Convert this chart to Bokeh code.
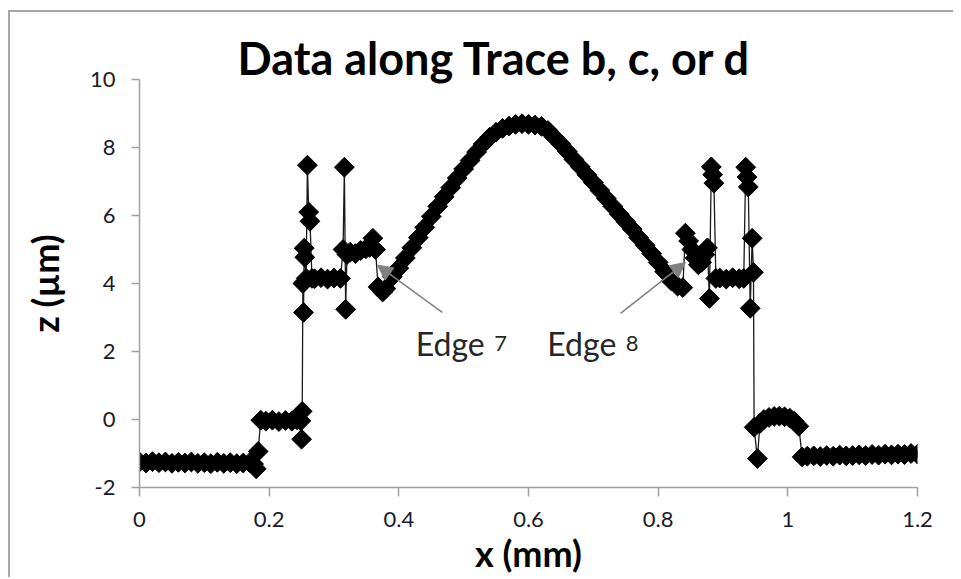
import numpy as np
from bokeh.plotting import figure
from bokeh.models import (Range1d, Label, Arrow, NormalHead,
                          FixedTicker, NumeralTickFormatter)
from bokeh.embed import file_html
from bokeh.resources import INLINE

# ---------------- texts ----------------
TITLE = "Data along Trace b, c, or d"
X_LABEL = "x (mm)"
Y_LABEL = "z (µm)"
X_TICKS = [0, 0.2, 0.4, 0.6, 0.8, 1.0, 1.2]
Y_TICKS = [-2, 0, 2, 4, 6, 8, 10]

# ---------------- data (x in mm, z in µm) ----------------
base_left_x = [0.00, 0.01, 0.02, 0.03, 0.04, 0.05, 0.06, 0.07, 0.08, 0.09, 0.10, 0.11,
               0.12, 0.13, 0.14, 0.15, 0.16, 0.17, 0.176, 0.180, 0.183]
base_left_z = [-1.25, -1.28, -1.24, -1.27, -1.25, -1.29, -1.26, -1.28, -1.25, -1.29, -1.27, -1.30,
               -1.26, -1.29, -1.27, -1.30, -1.28, -1.27, -1.31, -1.45, -0.94]

step_low_x = [0.187, 0.195, 0.205, 0.215, 0.225, 0.235, 0.243, 0.249, 0.250, 0.251]
step_low_z = [-0.02, -0.05, -0.02, -0.06, -0.03, -0.05, -0.01, -0.04, -0.58, 0.24]

spike1_x = [0.252, 0.253, 0.254, 0.255, 0.257, 0.259, 0.261, 0.263, 0.266]
spike1_z = [4.00, 3.15, 5.04, 4.77, 4.15, 7.48, 6.10, 5.83, 4.15]

plateau1_x = [0.27, 0.28, 0.29, 0.30, 0.31]
plateau1_z = [4.14, 4.17, 4.13, 4.16, 4.15]

spike2_x = [0.314, 0.316, 0.318, 0.320]
spike2_z = [5.00, 7.42, 3.24, 4.85]

shoulder_x = [0.325, 0.333, 0.341, 0.349, 0.355, 0.360, 0.364]
shoulder_z = [4.92, 4.88, 4.97, 5.02, 5.06, 5.33, 5.00]

hump_x = [0.368, 0.375, 0.38, 0.39, 0.40, 0.41, 0.42, 0.43, 0.44, 0.45, 0.46, 0.47,
          0.48, 0.49, 0.50, 0.51, 0.52, 0.53, 0.54, 0.55, 0.56, 0.57, 0.58, 0.59,
          0.60, 0.61, 0.62, 0.63, 0.64, 0.65, 0.66, 0.67, 0.68, 0.69, 0.70, 0.71,
          0.72, 0.73, 0.74, 0.75, 0.76, 0.77, 0.78, 0.79, 0.80, 0.81, 0.82, 0.83, 0.838]
hump_z = [3.90, 3.75, 3.85, 4.20, 4.45, 4.75, 5.05, 5.35, 5.65, 5.97, 6.27, 6.55,
          6.82, 7.10, 7.37, 7.62, 7.87, 8.10, 8.30, 8.45, 8.56, 8.63, 8.68, 8.70,
          8.68, 8.66, 8.62, 8.50, 8.30, 8.10, 7.88, 7.65, 7.43, 7.20, 6.97, 6.74,
          6.50, 6.27, 6.04, 5.82, 5.60, 5.35, 5.12, 4.88, 4.62, 4.35, 4.08, 3.92, 3.88]

vee_x = [0.842, 0.847, 0.852, 0.857, 0.862, 0.867, 0.872, 0.876, 0.879]
vee_z = [5.48, 5.25, 5.00, 4.75, 4.55, 4.62, 4.85, 5.05, 3.56]

spike3_x = [0.882, 0.884, 0.886, 0.889]
spike3_z = [7.43, 7.20, 6.95, 4.15]

plateau2_x = [0.895, 0.905, 0.915, 0.925, 0.932]
plateau2_z = [4.16, 4.13, 4.17, 4.14, 4.15]

spike4_x = [0.935, 0.937, 0.939, 0.942, 0.945, 0.947]
spike4_z = [7.42, 7.13, 6.84, 3.27, 5.33, 4.33]

dome_x = [0.948, 0.953, 0.957, 0.963, 0.971, 0.979, 0.987, 0.995, 1.003, 1.010, 1.017]
dome_z = [-0.23, -1.15, -0.12, 0.00, 0.06, 0.09, 0.10, 0.08, 0.04, -0.05, -0.20]

base_right_x = [1.022, 1.03, 1.04, 1.05, 1.06, 1.07, 1.08, 1.09, 1.10, 1.11, 1.12,
                1.13, 1.14, 1.15, 1.16, 1.17, 1.18, 1.19, 1.20]
base_right_z = [-1.10, -1.08, -1.07, -1.09, -1.06, -1.08, -1.05, -1.07, -1.06, -1.04, -1.06,
                -1.03, -1.05, -1.02, -1.04, -1.02, -1.03, -1.00, -1.02]

segments_x = [base_left_x, step_low_x, spike1_x, plateau1_x, spike2_x, shoulder_x, hump_x,
              vee_x, spike3_x, plateau2_x, spike4_x, dome_x, base_right_x]
segments_z = [base_left_z, step_low_z, spike1_z, plateau1_z, spike2_z, shoulder_z, hump_z,
              vee_z, spike3_z, plateau2_z, spike4_z, dome_z, base_right_z]
xs = [v for seg in segments_x for v in seg]
zs = [v for seg in segments_z for v in seg]

# annotations (data coordinates)
EDGE7 = dict(text="Edge", sub="7", x=0.426, sub_x=0.547, y=2.24,
             arrow=(0.467, 3.15, 0.367, 4.54))
EDGE8 = dict(text="Edge", sub="8", x=0.629, sub_x=0.750, y=2.24,
             arrow=(0.742, 3.12, 0.842, 4.62))

FONT = "Lato"
GRAY = "#a0a0a0"

p = figure(width=945, height=567, x_range=Range1d(0, 1.2), y_range=Range1d(-2, 10),
           output_backend="svg", toolbar_location=None,
           min_border_left=129, min_border_right=38, min_border_top=67, min_border_bottom=92)
p.styles = {"border-top": "2px solid #a6a6a6", "border-left": "2px solid #a6a6a6",
            "margin-left": "8px", "margin-top": "10px"}
p.xgrid.visible = False
p.ygrid.visible = False
p.outline_line_color = None
p.background_fill_color = "white"
p.border_fill_color = "white"

p.title.text = TITLE
p.title.text_font = FONT
p.title.text_font_style = "bold"
p.title.text_font_size = "45px"
p.title.text_color = "black"
p.title.align = "left"
p.title.offset = 98
p.title.standoff = -10

p.xaxis.ticker = FixedTicker(ticks=X_TICKS)
p.yaxis.ticker = FixedTicker(ticks=Y_TICKS)
p.xaxis.formatter = NumeralTickFormatter(format="0.[0]")
p.yaxis.formatter = NumeralTickFormatter(format="0")
for ax in (p.xaxis[0], p.yaxis[0]):
    ax.axis_line_color = GRAY
    ax.axis_line_width = 1.5
    ax.major_tick_line_color = GRAY
    ax.major_tick_line_width = 1.5
    ax.major_tick_in = 0
    ax.minor_tick_in = 0
    ax.minor_tick_out = 0
    ax.major_label_text_font = FONT
    ax.major_label_text_font_size = "22px"
    ax.major_label_text_color = "#1a1a2a"
    ax.axis_label_text_font = FONT
    ax.axis_label_text_font_style = "bold"
    ax.axis_label_text_font_size = "36px"
    ax.axis_label_text_color = "black"
p.xaxis.axis_label = X_LABEL
p.yaxis.axis_label = Y_LABEL
p.xaxis.major_tick_out = 9
p.yaxis.major_tick_out = 8
p.xaxis.major_label_standoff = 15
p.yaxis.major_label_standoff = 16
p.xaxis.axis_label_standoff = 1
p.yaxis.axis_label_standoff = 20

p.line(xs, zs, line_color="#1a1a1a", line_width=1.3)
p.scatter(xs, zs, marker="square", angle=np.pi / 4, size=14,
          fill_color="black", line_color="black", line_width=1)

for e in (EDGE7, EDGE8):
    x0, y0, x1, y1 = e["arrow"]
    p.add_layout(Arrow(x_start=x0, y_start=y0, x_end=x1, y_end=y1,
                       line_color="#808080", line_width=1.5,
                       end=NormalHead(size=15, fill_color="#808080", line_color="#808080")))
    p.add_layout(Label(x=e["x"], y=e["y"], text=e["text"], text_font=FONT,
                       text_font_size="32px", text_color="#262626",
                       text_baseline="alphabetic"))
    p.add_layout(Label(x=e["sub_x"], y=e["y"], text=e["sub"], text_font=FONT,
                       text_font_size="22px", text_color="#262626",
                       text_baseline="alphabetic"))

open("out.html", "w").write(file_html(p, INLINE))
